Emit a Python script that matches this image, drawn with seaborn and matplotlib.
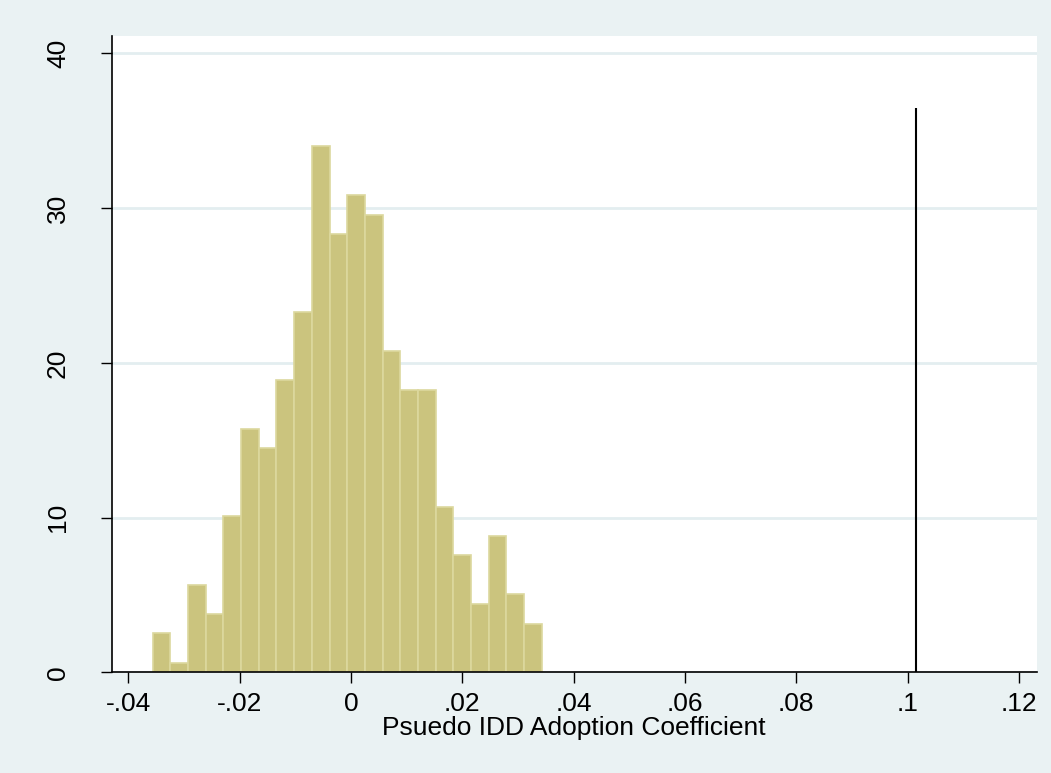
import numpy as np
import pandas as pd
import matplotlib
matplotlib.use("Agg")
import matplotlib.pyplot as plt
import seaborn as sns

# histogram: 22 bins, counts out of 500 draws
bin_start = -0.03564
bin_width = 0.003178
counts = [4, 1, 9, 6, 16, 25, 23, 30, 37, 54, 45, 49, 47, 33, 29, 29, 17, 12, 7, 14, 8, 5]
actual_coef = 0.1016
line_top = 36.45

edges = bin_start + bin_width * np.arange(len(counts) + 1)
centers = (edges[:-1] + edges[1:]) / 2
df = pd.DataFrame({'coef': centers, 'n': counts})

sns.set_style('white')
plt.rcParams['font.family'] = ['Liberation Sans', 'DejaVu Sans']
plt.rcParams['text.color'] = 'black'
plt.rcParams['axes.labelcolor'] = 'black'
plt.rcParams['xtick.color'] = 'black'
plt.rcParams['ytick.color'] = 'black'

bg = '#EAF2F3'
fig = plt.figure(figsize=(10.51, 7.73), dpi=100, facecolor=bg)
ax = fig.add_axes([0.1063, 0.1303, 0.8801, 0.8227])
ax.set_facecolor('white')

sns.histplot(data=df, x='coef', weights='n', bins=list(edges), stat='density',
             color='#CBC47E', edgecolor='#DCD89E', linewidth=1.2, alpha=1,
             ax=ax, zorder=2)

ax.vlines(actual_coef, 0, line_top, color='black', linewidth=1.5, zorder=3)

ax.set_xlim(-0.043, 0.1232)
ax.set_ylim(0, 41.1)

xt = [-0.04, -0.02, 0, 0.02, 0.04, 0.06, 0.08, 0.1, 0.12]
ax.set_xticks(xt)
ax.set_xticklabels(['-.04', '-.02', '0', '.02', '.04', '.06', '.08', '.1', '.12'], fontsize=19)
yt = [0, 10, 20, 30, 40]
ax.set_yticks(yt)
ax.set_yticklabels([str(v) for v in yt], fontsize=19, rotation=90, va='center')

ax.yaxis.grid(True, color='#E3EEF0', linewidth=2, zorder=0)
ax.set_axisbelow(True)
ax.tick_params(axis='both', direction='out', length=8, width=1, color='black',
               labelcolor='black', left=True, bottom=True)
ax.tick_params(axis='x', pad=6)
ax.tick_params(axis='y', pad=22)

for s in ['top', 'right']:
    ax.spines[s].set_visible(False)
for s in ['left', 'bottom']:
    ax.spines[s].set_color('black')
    ax.spines[s].set_linewidth(1.2)

ax.set_xlabel('Psuedo IDD Adoption Coefficient', fontsize=19, labelpad=0, color='black')
ax.set_ylabel('')

fig.savefig('out.png', dpi=100, facecolor=bg)
